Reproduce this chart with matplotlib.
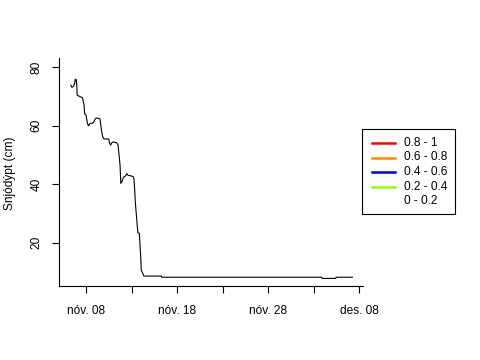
import matplotlib
matplotlib.use("Agg")
import matplotlib.pyplot as plt
from matplotlib.lines import Line2D
from matplotlib.patches import Rectangle
import pandas as pd

# ---- data ----
times = [
    "2010-11-06 07:00", "2010-11-06 10:00", "2010-11-06 14:00", "2010-11-06 17:00",
    "2010-11-06 19:00", "2010-11-06 21:00", "2010-11-06 23:00", "2010-11-07 00:00",
    "2010-11-07 04:00", "2010-11-07 09:00", "2010-11-07 14:00", "2010-11-07 18:00",
    "2010-11-07 20:00", "2010-11-07 23:00", "2010-11-08 03:00", "2010-11-08 06:00",
    "2010-11-08 10:00", "2010-11-08 18:00", "2010-11-09 00:00", "2010-11-09 03:00",
    "2010-11-09 12:00", "2010-11-09 16:00", "2010-11-09 19:00", "2010-11-09 23:00",
    "2010-11-10 11:00", "2010-11-10 13:00", "2010-11-10 16:00", "2010-11-10 20:00",
    "2010-11-10 23:00", "2010-11-11 08:00", "2010-11-11 12:00", "2010-11-11 13:00",
    "2010-11-11 15:00", "2010-11-11 17:00", "2010-11-11 19:00", "2010-11-11 22:00",
    "2010-11-12 02:00", "2010-11-12 07:00", "2010-11-12 11:00", "2010-11-12 14:00",
    "2010-11-13 00:00", "2010-11-13 04:00", "2010-11-13 06:00", "2010-11-13 08:00",
    "2010-11-13 09:00", "2010-11-13 11:00", "2010-11-13 14:00", "2010-11-13 16:00",
    "2010-11-13 20:00", "2010-11-13 22:00", "2010-11-14 00:00", "2010-11-14 01:00",
    "2010-11-14 05:00", "2010-11-14 08:00", "2010-11-16 06:00", "2010-11-16 07:00",
    "2010-12-03 21:00", "2010-12-03 22:00", "2010-12-05 10:00", "2010-12-05 11:00",
    "2010-12-07 06:00",
]
snow_depth = [
    73.9, 73.2, 73.4, 74.5, 75.9, 75.9, 73.9, 70.5,
    70.2, 69.9, 69.6, 67.1, 64.0, 63.8, 60.8, 60.0,
    60.8, 61.0, 62.4, 62.7, 62.4, 58.5, 56.3, 55.5,
    55.5, 54.3, 53.4, 54.3, 54.5, 54.2, 53.4, 51.9,
    49.4, 46.6, 40.3, 40.9, 42.4, 42.8, 43.6, 43.1,
    42.8, 42.6, 41.5, 37.4, 34.6, 31.2, 26.6, 23.4,
    23.2, 18.6, 14.1, 10.7, 9.5, 8.6, 8.6, 8.2,
    8.2, 7.8, 7.8, 8.2, 8.2,
]
tick_dates = ["2010-11-08", "2010-11-13", "2010-11-18", "2010-11-23",
              "2010-11-28", "2010-12-03", "2010-12-08"]
tick_labels = ["nóv. 08", "", "nóv. 18", "", "nóv. 28", "", "des. 08"]
y_ticks = [20, 40, 60, 80]
legend_labels = ["0.8 - 1", "0.6 - 0.8", "0.4 - 0.6", "0.2 - 0.4", "0 - 0.2"]
legend_colors = ["#FF0000", "#FF8C00", "#0000E0", "#90FF00", "#FFFFFF"]

# ---- figure ----
W, H = 480, 360
plt.rcParams['font.family'] = ['Liberation Sans', 'DejaVu Sans']
fs = 8.6
fig = plt.figure(figsize=(4.8, 3.6), dpi=100)
ax = fig.add_axes([59 / W, 1 - 286 / H, (363 - 59) / W, (286 - 58) / H])

t = pd.to_datetime(times)
ax.plot(t, snow_depth, color="black", lw=0.8)

ax.set_xlim(pd.Timestamp("2010-11-05 00:00"), pd.Timestamp("2010-12-08 10:00"))
ax.set_ylim(5.2, 83.2)

ax.set_xticks(pd.to_datetime(tick_dates))
ax.set_xticklabels(tick_labels)
ax.set_yticks(y_ticks)
ax.set_yticklabels([str(v) for v in y_ticks], rotation=90, va="center")

for s in ["top", "right"]:
    ax.spines[s].set_visible(False)
for s in ["left", "bottom"]:
    ax.spines[s].set_linewidth(0.8)
ax.tick_params(axis="both", direction="out", length=5, width=0.8, labelsize=fs, colors="black")
ax.tick_params(axis="x", pad=8.5)
ax.tick_params(axis="y", pad=7)

fig.text(10 / W, 1 - 173 / H, "Snjódýpt (cm)", rotation=90, ha="center", va="center", fontsize=fs)

# ---- legend (drawn in figure pixel space) ----
def fx(x):
    return x / W

def fy(y):
    return 1 - y / H

fig.patches.append(Rectangle((fx(362), fy(214)), fx(455) - fx(362), fy(129) - fy(214),
                             transform=fig.transFigure, fill=False, edgecolor="black", lw=0.8))
rows = [143, 157.5, 172, 186.5, 201]
for yy, lab, col in zip(rows, legend_labels, legend_colors):
    fig.lines.append(Line2D([fx(372), fx(395)], [fy(yy), fy(yy)], transform=fig.transFigure,
                            color=col, lw=1.8))
    fig.text(fx(404), fy(yy), lab, ha="left", va="center", fontsize=fs)

fig.savefig("out.png", dpi=100)
